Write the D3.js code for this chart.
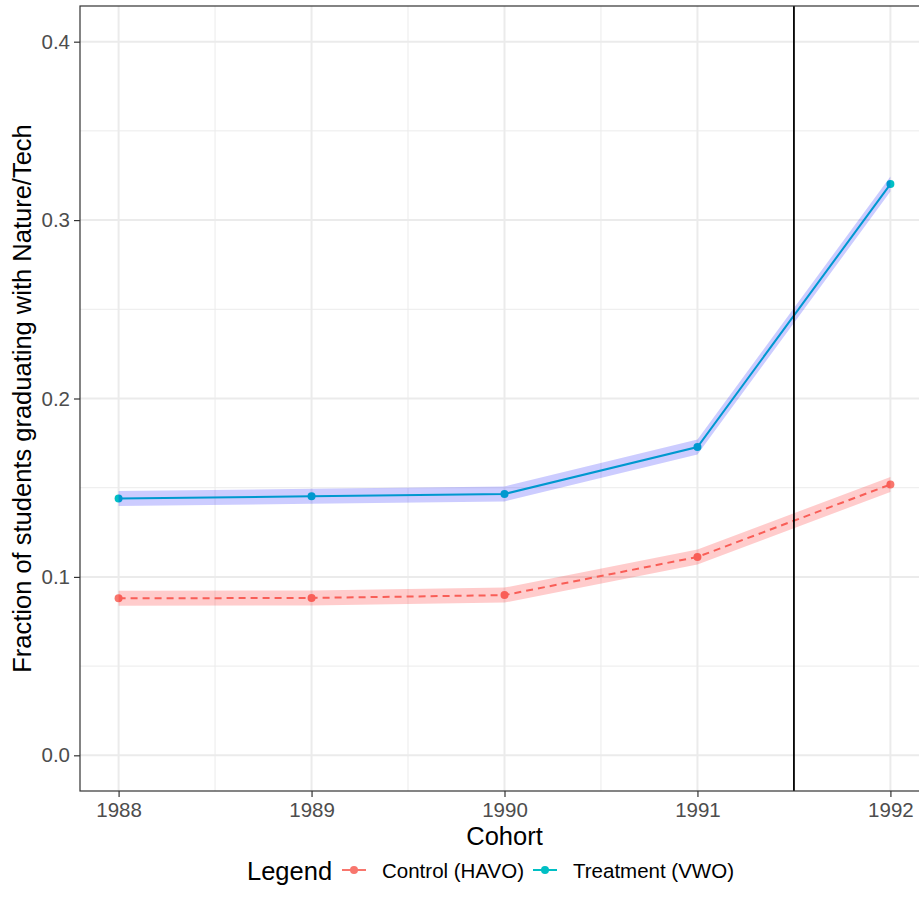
<!DOCTYPE html>
<html>
<head>
<meta charset="utf-8">
<script src="https://cdn.jsdelivr.net/npm/d3@7"></script>
<style>
  body { margin: 0; background: #fff; }
  svg { display: block; font-family: Arial, "Liberation Sans", sans-serif; }
</style>
</head>
<body>
<svg id="chart" width="919" height="913"></svg>
<script>
const cohorts = [1988, 1989, 1990, 1991, 1992];
const controlValues = [0.088, 0.0882, 0.0898, 0.1112, 0.1518];
const treatmentValues = [0.1440, 0.1452, 0.1465, 0.1728, 0.3202];
const ribbonHalf = 0.0042;
const yTicks = [0.0, 0.1, 0.2, 0.3, 0.4];
const yMinor = [0.05, 0.15, 0.25, 0.35];
const xMinor = [1988.5, 1989.5, 1990.5, 1991.5];
const cutoffYear = 1991.5;
const seriesNames = ['Control (HAVO)', 'Treatment (VWO)'];

const svg = d3.select('#chart');
const margin = { top: 6, left: 80 };
const panelRight = 929;
const panelBottom = 791;
const font = 'Arial, "Liberation Sans", sans-serif';

const x = d3.scaleLinear()
  .domain([1987.8, 1992.2])
  .range([margin.left, panelRight]);
const y = d3.scaleLinear()
  .domain([-0.02, 0.42])
  .range([panelBottom, margin.top]);

const series = [
  { name: seriesNames[0], values: controlValues, color: '#F8766D', ribbon: 'red', dash: '7,5' },
  { name: seriesNames[1], values: treatmentValues, color: '#00BFC4', ribbon: 'blue', dash: null },
];

const panel = svg.append('g');

// grid
panel.selectAll('.yminor').data(yMinor).enter().append('line')
  .attr('x1', margin.left).attr('x2', panelRight)
  .attr('y1', d => y(d)).attr('y2', d => y(d))
  .attr('stroke', '#EBEBEB').attr('stroke-width', 1);
panel.selectAll('.xminor').data(xMinor).enter().append('line')
  .attr('y1', margin.top).attr('y2', panelBottom)
  .attr('x1', d => x(d)).attr('x2', d => x(d))
  .attr('stroke', '#EBEBEB').attr('stroke-width', 1);
panel.selectAll('.ymajor').data(yTicks).enter().append('line')
  .attr('x1', margin.left).attr('x2', panelRight)
  .attr('y1', d => y(d)).attr('y2', d => y(d))
  .attr('stroke', '#EBEBEB').attr('stroke-width', 2);
panel.selectAll('.xmajor').data(cohorts).enter().append('line')
  .attr('y1', margin.top).attr('y2', panelBottom)
  .attr('x1', d => x(d)).attr('x2', d => x(d))
  .attr('stroke', '#EBEBEB').attr('stroke-width', 2);

const line = d3.line().x((d, i) => x(cohorts[i])).y(d => y(d));
const area = d3.area()
  .x((d, i) => x(cohorts[i]))
  .y0(d => y(d - ribbonHalf))
  .y1(d => y(d + ribbonHalf));

series.forEach(s => {
  panel.append('path')
    .attr('d', line(s.values))
    .attr('fill', 'none')
    .attr('stroke', s.color)
    .attr('stroke-width', 2)
    .attr('stroke-dasharray', s.dash);
  panel.selectAll(null).data(s.values).enter().append('circle')
    .attr('cx', (d, i) => x(cohorts[i]))
    .attr('cy', d => y(d))
    .attr('r', 4)
    .attr('fill', s.color);
});

series.forEach(s => {
  panel.append('path')
    .attr('d', area(s.values))
    .attr('fill', s.ribbon)
    .attr('fill-opacity', 0.2);
});

panel.append('line')
  .attr('x1', x(cutoffYear)).attr('x2', x(cutoffYear))
  .attr('y1', margin.top).attr('y2', panelBottom)
  .attr('stroke', '#000').attr('stroke-width', 1.8);

panel.append('rect')
  .attr('x', margin.left).attr('y', margin.top)
  .attr('width', panelRight - margin.left)
  .attr('height', panelBottom - margin.top)
  .attr('fill', 'none')
  .attr('stroke', '#333333')
  .attr('stroke-width', 1.2);

// axes
const xAxis = svg.append('g')
  .attr('transform', `translate(0,${panelBottom})`)
  .call(d3.axisBottom(x).tickValues(cohorts).tickFormat(d3.format('d')).tickSize(6).tickPadding(5));
const yAxis = svg.append('g')
  .attr('transform', `translate(${margin.left},0)`)
  .call(d3.axisLeft(y).tickValues(yTicks).tickFormat(d3.format('.1f')).tickSize(6).tickPadding(4));
[xAxis, yAxis].forEach(g => {
  g.select('.domain').remove();
  g.selectAll('line').attr('stroke', '#333333').attr('stroke-width', 1.2);
  g.selectAll('text')
    .attr('fill', '#4D4D4D')
    .style('font-size', '20.5px')
    .style('font-family', font);
});

svg.append('text')
  .attr('x', x(1990)).attr('y', 845)
  .attr('text-anchor', 'middle')
  .style('font-size', '25.5px')
  .text('Cohort');

svg.append('text')
  .attr('transform', `translate(31,${(margin.top + panelBottom) / 2}) rotate(-90)`)
  .attr('text-anchor', 'middle')
  .style('font-size', '25.5px')
  .text('Fraction of students graduating with Nature/Tech');

// legend
const legend = svg.append('g').attr('transform', 'translate(0,870)');
legend.append('text')
  .attr('x', 247).attr('y', 10)
  .style('font-size', '25.5px')
  .text('Legend');
const keyX = [342, 533];
series.forEach((s, i) => {
  const k = legend.append('g').attr('transform', `translate(${keyX[i]},0)`);
  k.append('line').attr('x1', 0).attr('x2', 24).attr('y1', 0).attr('y2', 0)
    .attr('stroke', s.color).attr('stroke-width', 2);
  k.append('circle').attr('cx', 12).attr('cy', 0).attr('r', 4).attr('fill', s.color);
  k.append('text').attr('x', 40).attr('y', 7.5)
    .style('font-size', '20.5px')
    .text(s.name);
});
</script>
</body>
</html>
